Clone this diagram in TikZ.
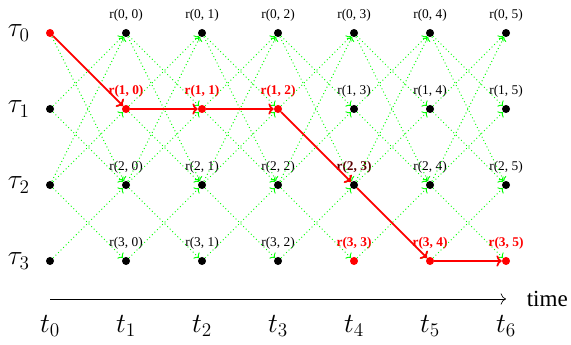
\documentclass[tikz,border=0pt]{standalone}
\usepackage{fontspec}
\setmainfont{Liberation Serif}
\usepackage{tikz}
\usetikzlibrary{positioning,arrows.meta}

% red dots and labels of the chosen run
\tikzset{
  c00/.style={fill=red}, c11/.style={fill=red}, c12/.style={fill=red},
  c13/.style={fill=red}, c34/.style={fill=red}, c35/.style={fill=red},
  c36/.style={fill=red},
  m10/.style={text=red, font=\normalsize\bfseries},
  m11/.style={text=red, font=\normalsize\bfseries},
  m12/.style={text=red, font=\normalsize\bfseries},
  m23/.style={text=red!35!black, font=\normalsize\bfseries},
  m33/.style={text=red, font=\normalsize\bfseries},
  m34/.style={text=red, font=\normalsize\bfseries},
  m35/.style={text=red, font=\normalsize\bfseries}
}

\begin{document}
\begin{tikzpicture}[
  x=2cm, y=-2cm,
  dot/.style={circle, fill=black, inner sep=0pt, minimum size=6pt},
  lab/.style={font=\normalsize, inner sep=1pt},
  track/.style={line width=1.3pt},
  hop/.style={-{To[length=3pt]}, green, dotted, line width=0.7pt},
  chosen/.style={-{To[length=4pt]}, red, line width=1.3pt},
  axis/.style={-{To[length=4pt]}, line width=0.5pt}
]
\useasboundingbox (-0.658,-0.434) rectangle (6.855,4.105);

% grid of rounds
\foreach \i in {0,...,3}
  \foreach \j in {0,...,6}
    \node[dot, c\i\j/.try] (p\i\j) at (\j,\i) {};

% labels r(i, j)
\foreach \i in {0,...,3}
  \foreach \j [count=\q from 0] in {1,...,6}
    \node[lab, above=4pt of p\i\j, m\i\q/.try] (r\i\q) {r(\i, \q)};

% row names
\foreach \i in {0,...,3}
  \node[font=\huge] (tau\i) at (-0.41,\i) {$\tau_{\i}$};

% possible hops
\foreach \j [evaluate=\j as \n using int(\j+1)] in {0,...,5}
  \foreach \a/\b in {0/1,1/0,1/2,2/1,2/3,3/2,0/2,2/0}
    \draw[hop] (p\a\j) -- (p\b\n);

% rows
\foreach \i in {0,...,3}
  \foreach \j [evaluate=\j as \n using int(\j+1)] in {0,...,5}
    \draw[track] (p\i\j) -- (p\i\n);

% chosen run
\foreach \a/\b in {00/11,11/12,12/13,13/24,24/35,35/36}
  \draw[chosen] (p\a) -- (p\b);

% time axis
\coordinate (ax0) at (0,3.5);
\coordinate (ax1) at (6,3.5);
\draw[axis] (ax0) -- (ax1);
\node[font=\LARGE, right=12pt of ax1] (time) {time};
\foreach \j in {0,...,6}
  \node[font=\huge] (t\j) at (\j,3.86) {$t_{\j}$};
\end{tikzpicture}
\end{document}
